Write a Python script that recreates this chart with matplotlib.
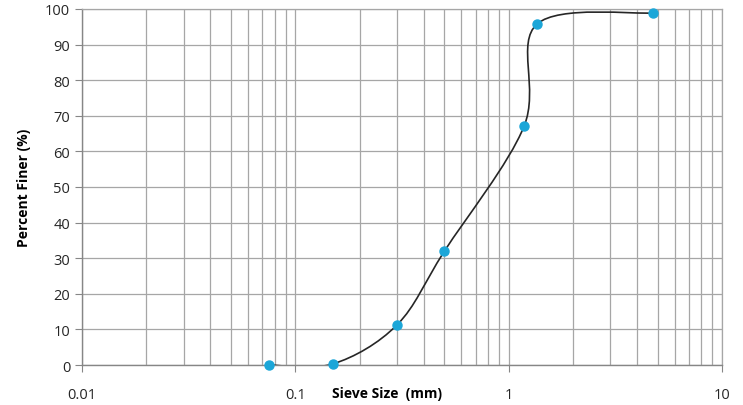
import numpy as np
import matplotlib
matplotlib.use('Agg')
import matplotlib.pyplot as plt
from matplotlib.path import Path
from matplotlib.patches import PathPatch
from matplotlib.ticker import FixedLocator, LogLocator, NullFormatter

# sieve analysis data
sieve_mm = [0.075, 0.15, 0.3, 0.5, 1.18, 1.36, 4.75]
percent_finer = [0.0, 0.3, 11.3, 32.0, 67.0, 95.8, 98.9]

x_ticks = [0.01, 0.1, 1, 10]
x_tick_labels = ['0.01', '0.1', '1', '10']
y_ticks = list(range(0, 101, 10))

plt.rcParams['font.family'] = ['Open Sans', 'DejaVu Sans']


def smooth_path(xs, ys):
    '''
    Excel style smoothed line: cubic bezier segments, built in (log x, y).
    '''
    lx = np.log10(xs)
    y = np.asarray(ys, dtype=float)
    n = len(lx)
    verts = [(xs[0], y[0])]
    codes = [Path.MOVETO]
    for i in range(n - 1):
        i0 = max(i - 1, 0)
        i3 = min(i + 2, n - 1)
        c1x = lx[i] + (lx[i + 1] - lx[i0]) / 6
        c1y = y[i] + (y[i + 1] - y[i0]) / 6
        c2x = lx[i + 1] - (lx[i3] - lx[i]) / 6
        c2y = y[i + 1] - (y[i3] - y[i]) / 6
        verts += [(10 ** c1x, c1y), (10 ** c2x, c2y), (xs[i + 1], y[i + 1])]
        codes += [Path.CURVE4] * 3
    return Path(verts, codes)


fig = plt.figure(figsize=(7.43, 4.06), dpi=100)
ax = fig.add_axes([0.1104, 0.0985, 0.8613, 0.8769])
ax.set_xscale('log')
ax.set_xlim(0.01, 10)
ax.set_ylim(0, 100)

grid_col = '#a6a6a6'
ax.xaxis.set_major_locator(FixedLocator(x_ticks))
ax.set_xticklabels(x_tick_labels)
ax.xaxis.set_minor_locator(LogLocator(base=10, subs=np.arange(2, 10)))
ax.xaxis.set_minor_formatter(NullFormatter())
ax.set_yticks(y_ticks)
ax.grid(True, which='major', color=grid_col, lw=0.9)
ax.grid(True, which='minor', axis='x', color=grid_col, lw=0.9)
ax.set_axisbelow(True)

for side in ['top', 'right']:
    ax.spines[side].set_color(grid_col)
    ax.spines[side].set_linewidth(0.9)
for side in ['left', 'bottom']:
    ax.spines[side].set_color('#868686')
    ax.spines[side].set_linewidth(1.0)

ax.tick_params(axis='both', which='major', length=5, color='#868686',
               labelsize=10.5, labelcolor='#262626')
ax.tick_params(axis='x', which='major', pad=11)
ax.tick_params(axis='x', which='minor', length=0)

# the whole series is one smoothed line; the part at y=0 hides under the axis
curve = smooth_path(sieve_mm, percent_finer)
ax.add_patch(PathPatch(curve, facecolor='none', edgecolor='#262626',
                       lw=1.2, zorder=3))
ax.plot(sieve_mm, percent_finer, ls='none', marker='o', ms=6.5,
        color='#1ba6d8', zorder=4, clip_on=False)

ax.set_ylabel('Percent Finer (%)', fontsize=10, fontweight='bold',
              labelpad=10)
ax.text(0.27, -8.0, 'Sieve Size  (mm)', transform=ax.transData,
        fontsize=10, fontweight='bold', ha='center', va='center')

fig.savefig('out.png', dpi=100)
